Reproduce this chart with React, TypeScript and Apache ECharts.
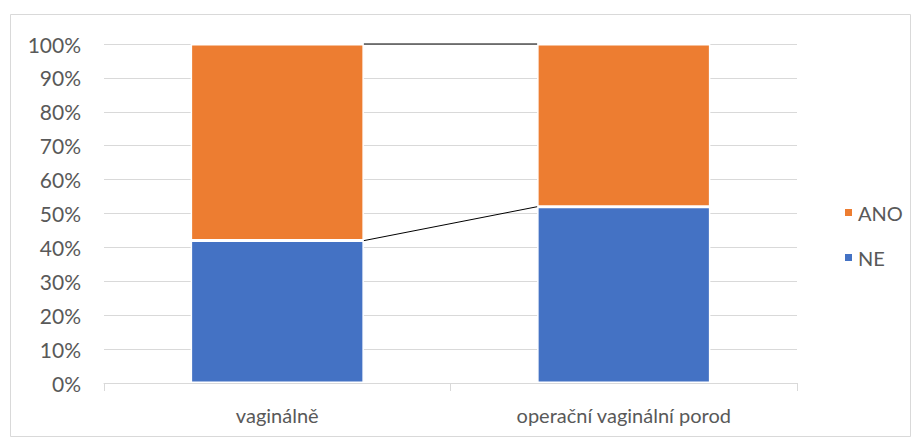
import React, { useEffect, useRef } from "react";
import * as echarts from "echarts";

const categories = ["vaginálně", "operační vaginální porod"];
const seriesNames = ["NE", "ANO"];
const neValues = [42, 52];
const anoValues = [58, 48];
const yTicks = { min: 0, max: 100, interval: 10 };

const FONT = "Lato, 'Noto Sans', sans-serif";
const TEXT = "#595959";
const GRID = "#d9d9d9";
const FS = 21;

export default function App() {
  const ref = useRef<HTMLDivElement>(null);
  useEffect(() => {
    document.body.style.margin = "0";
    if (!ref.current) return;
    const chart = echarts.init(ref.current, undefined, { renderer: "svg" });

    const stacks = [neValues, anoValues];
    // series lines: connect cumulative tops of each segment between adjacent bars
    const lineData: number[][] = [];
    let cumA = [0, 0];
    stacks.forEach((vals) => {
      cumA = cumA.map((c, i) => c + vals[i]);
      for (let i = 0; i < categories.length - 1; i++) {
        lineData.push([i, cumA[i], cumA[i + 1]]);
      }
    });

    chart.setOption({
      animation: false,
      textStyle: { fontFamily: FONT },
      grid: { left: 104, right: 118, top: 44, bottom: 56 },
      graphic: [
        {
          type: "rect",
          shape: { x: 10.5, y: 14.5, width: 900, height: 422 },
          style: { fill: "none", stroke: GRID, lineWidth: 1 },
          silent: true,
          z: -1,
        },
      ],
      legend: {
        orient: "vertical",
        left: 838,
        top: 197,
        itemWidth: 9,
        itemHeight: 9,
        itemGap: 24,
        icon: "rect",
        data: ["ANO", "NE"],
        textStyle: { color: TEXT, fontSize: 20, lineHeight: 21, fontFamily: FONT },
      },
      xAxis: {
        type: "category",
        data: categories,
        axisLine: { lineStyle: { color: GRID } },
        axisTick: { show: true, length: 8, lineStyle: { color: GRID } },
        axisLabel: { color: TEXT, fontSize: 20, margin: 22, fontFamily: FONT },
      },
      yAxis: {
        type: "value",
        min: yTicks.min,
        max: yTicks.max,
        interval: yTicks.interval,
        axisLine: { show: false },
        axisTick: { show: false },
        splitLine: { lineStyle: { color: GRID } },
        axisLabel: {
          color: TEXT,
          fontSize: FS,
          margin: 23,
          formatter: "{value}%",
          fontFamily: FONT,
        },
      },
      series: [
        {
          name: seriesNames[0],
          type: "bar",
          stack: "total",
          data: neValues,
          barWidth: "50%",
          itemStyle: { color: "#4472c4", borderColor: "#fff", borderWidth: 1.5 },
        },
        {
          name: seriesNames[1],
          type: "bar",
          stack: "total",
          data: anoValues,
          barWidth: "50%",
          itemStyle: { color: "#ed7d31", borderColor: "#fff", borderWidth: 1.5 },
        },
        {
          name: "lines",
          type: "custom",
          silent: true,
          z: 5,
          data: lineData,
          renderItem: (params: any, api: any) => {
            const i = api.value(0);
            const half = api.size([1, 0])[0] * 0.25;
            const p1 = api.coord([i, api.value(1)]);
            const p2 = api.coord([i + 1, api.value(2)]);
            return {
              type: "line",
              shape: { x1: p1[0] + half, y1: p1[1], x2: p2[0] - half, y2: p2[1] },
              style: { stroke: "#000", lineWidth: 1 },
            };
          },
        },
      ],
    });
    return () => chart.dispose();
  }, []);
  return <div ref={ref} style={{ width: 915, height: 439 }} />;
}
